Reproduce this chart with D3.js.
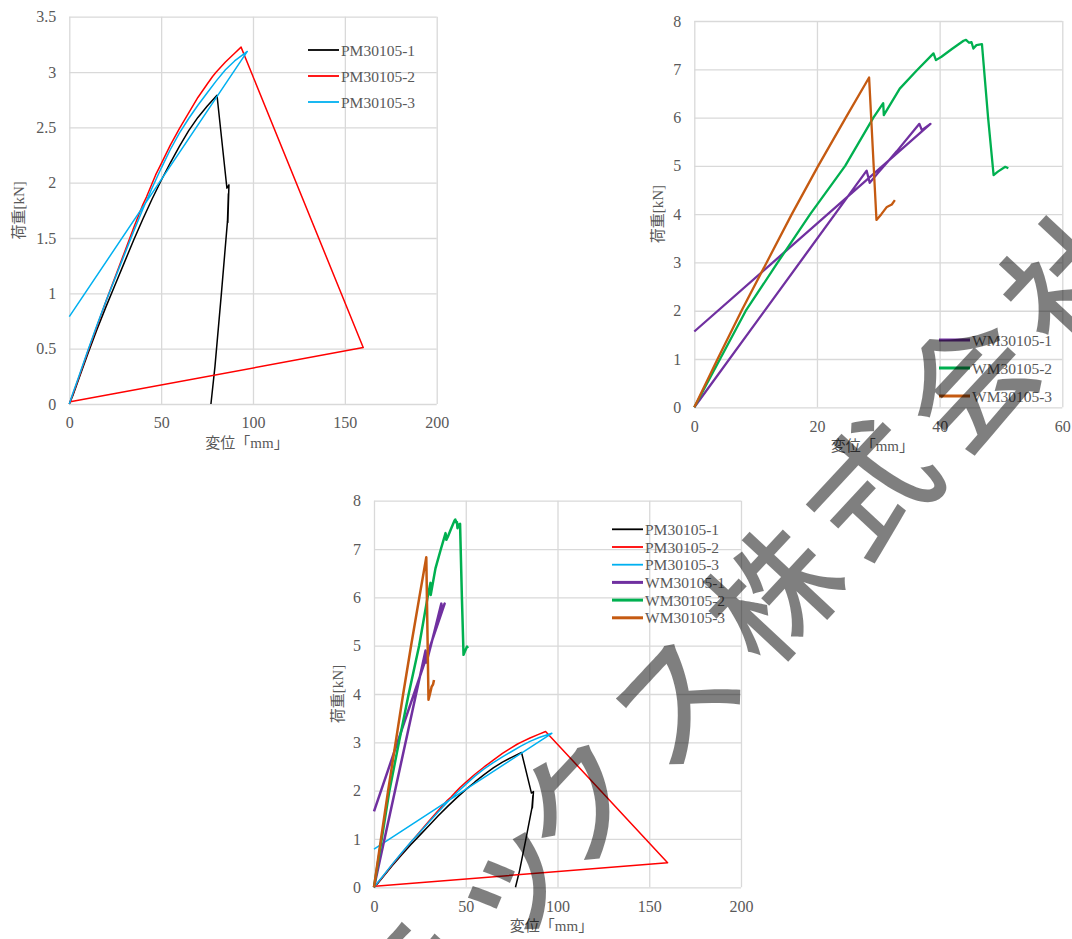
<!DOCTYPE html>
<html><head><meta charset="utf-8">
<script src="https://cdn.jsdelivr.net/npm/d3@7"></script>
<style>html,body{margin:0;padding:0;background:#fff;}svg{display:block;}</style>
</head><body>
<script>
// ---- data ----
const pmNames = ["PM30105-1","PM30105-2","PM30105-3"];
const wmNames = ["WM30105-1","WM30105-2","WM30105-3"];
const pm1 = [[0,0],[2,0.08],[5,0.22],[10,0.45],[15,0.67],[20,0.88],[25,1.08],[30,1.28],[35,1.48],[40,1.67],[45,1.85],[50,2.02],[55,2.18],[60,2.33],[65,2.47],[70,2.59],[75,2.69],[80.4,2.79],[85.8,1.95],[86.9,1.98],[86.3,1.64],[86.6,1.9],[86.1,1.65],[82.8,1.0],[79.3,0.34],[77.1,0]];
const pm2 = [[0,0],[2,0.09],[5,0.23],[10,0.47],[15,0.70],[20,0.93],[25,1.15],[30,1.37],[35,1.59],[40,1.80],[42,1.87],[45,1.99],[47,2.07],[50,2.17],[55,2.34],[60,2.49],[65,2.63],[70,2.77],[75,2.89],[78,2.96],[80,3.0],[85,3.09],[90,3.17],[93.5,3.225],[160,0.51],[0.5,0.02]];
const pm3 = [[0,0],[2,0.1],[5,0.24],[10,0.48],[15,0.71],[20,0.93],[25,1.14],[30,1.35],[35,1.56],[40,1.76],[45,1.95],[50,2.13],[55,2.30],[60,2.45],[65,2.58],[70,2.70],[75,2.81],[80,2.92],[85,3.02],[90,3.1],[96.9,3.186],[0,0.79]];
const wm1 = [[0,0],[28.1,4.9],[28.6,4.65],[30,4.86],[33,5.3],[36.7,5.87],[37.1,5.74],[38.5,5.87],[0,1.57]];
const wm2 = [[0,0],[4.2,1],[8.4,2],[13.6,3],[18.9,4],[24.6,5],[29.2,6],[30.8,6.3],[30.9,6.05],[33.5,6.6],[36.3,6.98],[39.0,7.33],[39.4,7.19],[40.3,7.26],[42,7.42],[43.9,7.59],[44.3,7.61],[44.8,7.55],[45.2,7.56],[45.5,7.43],[46.0,7.5],[46.9,7.52],[47.9,6.0],[48.8,4.81],[49.5,4.88],[50.7,4.98],[51.2,4.95]];
const wm3 = [[0,0],[3.8,1],[7.7,2],[11.8,3],[15.9,4],[20.2,5],[24.7,6],[28.5,6.83],[29.7,3.88],[30.5,4.0],[31.4,4.15],[32.2,4.2],[32.7,4.29]];
const pmColors = ["#000000","#ff0000","#00b0f0"];
const wmColors = ["#7030a0","#00b050","#c55a11"];
const xTicks200 = [0,50,100,150,200];
const yTicks35 = [0,0.5,1,1.5,2,2.5,3,3.5];
const xTicks60 = [0,20,40,60];
const yTicks8 = [0,1,2,3,4,5,6,7,8];
const xTitle = "変位「mm」";
const yTitle = "荷重[kN]";
const watermarkParts = ["テッ", "クス株式会社"];

// ---- drawing ----
const W = 1072, H = 939;
const FONT = "'Liberation Serif','Noto Sans CJK JP',serif";
const TXT = "#595959", GRID = "#d9d9d9";
const svg = d3.select("body").append("svg").attr("width", W).attr("height", H)
  .style("font-family", FONT);

function panel(cfg) {
  const g = svg.append("g");
  const x = d3.scaleLinear().domain(cfg.xDomain).range([cfg.left, cfg.right]);
  const y = d3.scaleLinear().domain(cfg.yDomain).range([cfg.bottom, cfg.top]);
  const ga = g.append("g").attr("transform", `translate(${cfg.left},0)`)
    .call(d3.axisLeft(y).tickValues(cfg.yTicks).tickSize(-(cfg.right - cfg.left)).tickPadding(13).tickFormat(d => String(d)));
  const gb = g.append("g").attr("transform", `translate(0,${cfg.bottom})`)
    .call(d3.axisBottom(x).tickValues(cfg.xTicks).tickSize(-(cfg.bottom - cfg.top)).tickPadding(13).tickFormat(d => String(d)));
  [ga, gb].forEach(a => {
    a.select(".domain").remove();
    a.selectAll(".tick line").attr("stroke", GRID).attr("stroke-width", 1.3);
    a.selectAll(".tick text").attr("fill", TXT).style("font-size", "16px").style("font-family", FONT);
  });
  g.append("text").attr("x", (cfg.left + cfg.right) / 2 - 6).attr("y", cfg.bottom + 39)
    .attr("text-anchor", "middle").attr("dominant-baseline", "central")
    .attr("fill", TXT).style("font-size", "15px").text(xTitle);
  g.append("text").attr("transform", `translate(${cfg.yTitleX},${(cfg.top + cfg.bottom) / 2}) rotate(-90)`)
    .attr("text-anchor", "middle").attr("dominant-baseline", "central")
    .attr("fill", TXT).style("font-size", "15px").text(yTitle);
  const line = d3.line().x(d => x(d[0])).y(d => y(d[1]));
  cfg.series.forEach(s => {
    g.append("path").datum(s.data).attr("d", line).attr("fill", "none")
      .attr("stroke", s.color).attr("stroke-width", s.width).attr("stroke-linejoin", "round");
  });
  const lg = g.append("g");
  cfg.series.forEach((s, i) => {
    const yy = cfg.legend.y + i * cfg.legend.dy;
    lg.append("line").attr("x1", cfg.legend.x).attr("x2", cfg.legend.x + 31)
      .attr("y1", yy).attr("y2", yy).attr("stroke", s.color).attr("stroke-width", s.lw);
    lg.append("text").attr("x", cfg.legend.x + 33).attr("y", yy).attr("dominant-baseline", "central")
      .attr("fill", TXT).style("font-size", "15.5px").text(s.name);
  });
}

const pmSeries = [pm1, pm2, pm3].map((d, i) => ({data: d, name: pmNames[i], color: pmColors[i], width: 1.5, lw: 1.8}));
const wmSeries = [wm1, wm2, wm3].map((d, i) => ({data: d, name: wmNames[i], color: wmColors[i], width: 2.3, lw: 3}));

panel({left: 69.3, right: 436.7, top: 16.7, bottom: 404, xDomain: [0,200], yDomain: [0,3.5],
  xTicks: xTicks200, yTicks: yTicks35, yTitleX: 19, series: pmSeries, legend: {x: 308, y: 50, dy: 26}});
panel({left: 694.3, right: 1062.3, top: 21, bottom: 407.3, xDomain: [0,60], yDomain: [0,8],
  xTicks: xTicks60, yTicks: yTicks8, yTitleX: 657.5, series: wmSeries, legend: {x: 939, y: 340, dy: 28}});
panel({left: 374, right: 741, top: 500.7, bottom: 887.3, xDomain: [0,200], yDomain: [0,8],
  xTicks: xTicks200, yTicks: yTicks8, yTitleX: 337.5,
  series: pmSeries.concat(wmSeries.map(s => Object.assign({}, s, {width: 2.5}))).map(s => Object.assign({}, s, {lw: s.width > 2 ? 3 : 1.8})),
  legend: {x: 612, y: 529.3, dy: 17.7}});

// watermark
const wm = svg.append("text").attr("transform", "translate(1117,213) rotate(-47)")
  .attr("text-anchor", "end").attr("dominant-baseline", "central")
  .style("font-family", "'Noto Sans CJK JP'").style("font-size", "126px").style("font-weight", 500)
  .style("letter-spacing", "18px")
  .attr("fill", "#000").attr("fill-opacity", 0.5);
wm.append("tspan").text(watermarkParts[0]);
wm.append("tspan").attr("dx", -40).text(watermarkParts[1]);
</script>
</body></html>
